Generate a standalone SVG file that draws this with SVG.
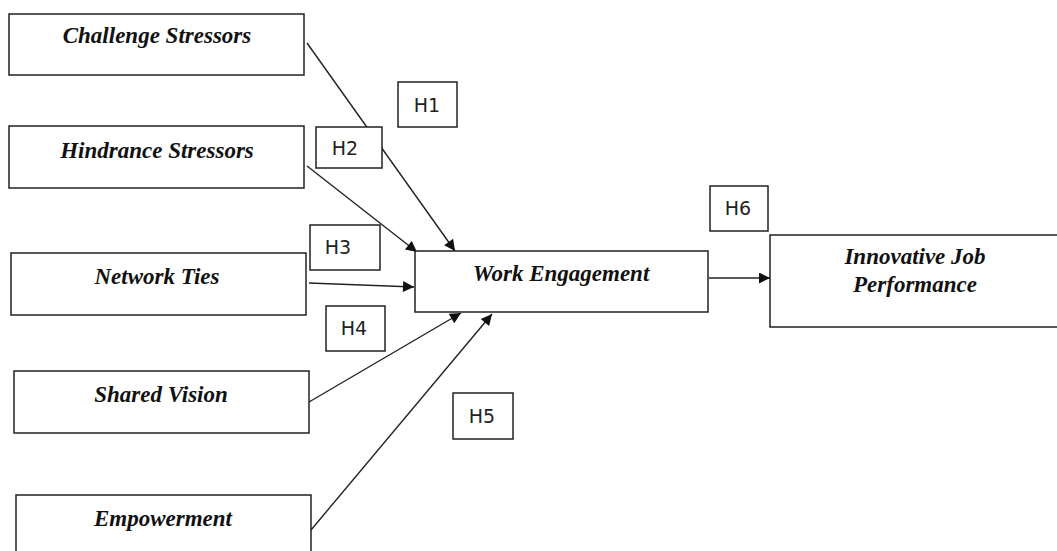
<svg xmlns="http://www.w3.org/2000/svg" width="1057" height="551" viewBox="0 0 1057 551">
<defs>
<style>
.box{fill:#fff;stroke:#222;stroke-width:1.5}
.t{font-family:"Liberation Serif","Times New Roman",serif;font-weight:bold;font-style:italic;font-size:23px;fill:#111;text-anchor:middle}
.h{font-family:"DejaVu Sans",Verdana,sans-serif;font-size:19px;fill:#222;text-anchor:middle}
.c{stroke:#222;stroke-width:1.4;fill:none}
</style>
<marker id="arr" viewBox="0 0 10 10" refX="10" refY="5" markerWidth="13" markerHeight="11" markerUnits="userSpaceOnUse" orient="auto">
<path d="M0,0 L10,5 L0,10 z" fill="#111"/>
</marker>
</defs>
<rect width="1057" height="551" fill="#fff"/>
<g id="connectors">
<line class="c" x1="307" y1="43" x2="455" y2="251" marker-end="url(#arr)"/>
<line class="c" x1="307" y1="166" x2="417" y2="252" marker-end="url(#arr)"/>
<line class="c" x1="309" y1="283" x2="414" y2="287" marker-end="url(#arr)"/>
<line class="c" x1="309" y1="402" x2="461" y2="313" marker-end="url(#arr)"/>
<line class="c" x1="311" y1="530" x2="492" y2="314" marker-end="url(#arr)"/>
<line class="c" x1="709" y1="278" x2="770" y2="278" marker-end="url(#arr)"/>
</g>
<g id="challenge"><rect class="box" x="9" y="14" width="295" height="61"/><text class="t" x="157" y="43">Challenge Stressors</text></g>
<g id="hindrance"><rect class="box" x="9" y="126" width="295" height="62"/><text class="t" x="157" y="158">Hindrance Stressors</text></g>
<g id="network"><rect class="box" x="11" y="253" width="295" height="62"/><text class="t" x="157" y="284">Network Ties</text></g>
<g id="shared"><rect class="box" x="14" y="371" width="295" height="62"/><text class="t" x="161" y="402">Shared Vision</text></g>
<g id="empowerment"><rect class="box" x="16" y="495" width="295" height="70"/><text class="t" x="163" y="526">Empowerment</text></g>
<g id="work"><rect class="box" x="415" y="251" width="293" height="61"/><text class="t" x="561" y="281">Work Engagement</text></g>
<g id="innovative"><rect class="box" x="770" y="235" width="300" height="92"/><text class="t" x="915" y="264">Innovative Job</text><text class="t" x="915" y="292">Performance</text></g>
<g id="h1"><rect class="box" x="398" y="82" width="59" height="45"/><text class="h" x="427" y="112">H1</text></g>
<g id="h2"><rect class="box" x="316" y="127" width="66" height="41"/><text class="h" x="345" y="155">H2</text></g>
<g id="h3"><rect class="box" x="310" y="225" width="70" height="45"/><text class="h" x="338" y="254">H3</text></g>
<g id="h4"><rect class="box" x="326" y="306" width="59" height="45"/><text class="h" x="354" y="335">H4</text></g>
<g id="h5"><rect class="box" x="453" y="393" width="60" height="46"/><text class="h" x="482" y="423">H5</text></g>
<g id="h6"><rect class="box" x="710" y="186" width="58" height="45"/><text class="h" x="738" y="215">H6</text></g>
</svg>
